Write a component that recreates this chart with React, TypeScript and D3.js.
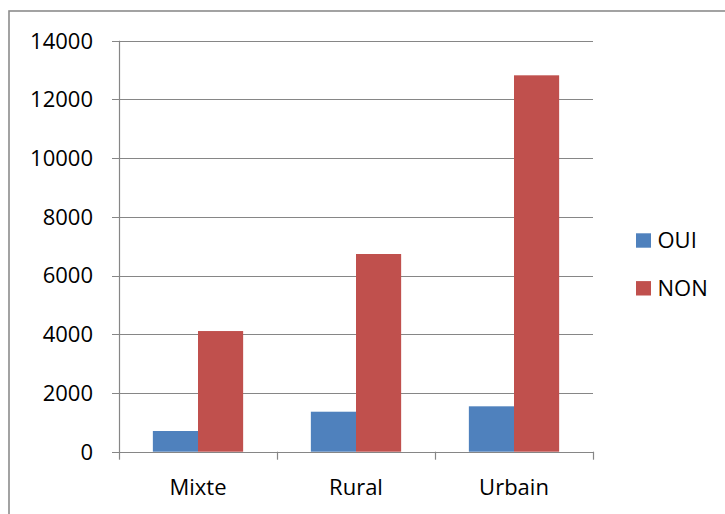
import React from "react";
import * as d3 from "d3";

const categories = ["Mixte", "Rural", "Urbain"];
const seriesNames = ["OUI", "NON"];
const ouiValues = [705, 1362, 1546];
const nonValues = [4110, 6734, 12821];
const yTicks = [0, 2000, 4000, 6000, 8000, 10000, 12000, 14000];
const colors = ["#4F81BD", "#C0504D"];

const W = 725;
const H = 514;
const plot = { left: 119, right: 593, top: 40.7, bottom: 451.7 };
const FONT = "'Open Sans', 'Liberation Sans', sans-serif";
const FS = 22;
const AXIS = "#868686";

export default function App() {
  const x = d3.scaleBand<string>().domain(categories).range([plot.left, plot.right]).paddingInner(0).paddingOuter(0);
  const y = d3.scaleLinear().domain([0, 14000]).range([plot.bottom, plot.top]);
  const bw = x.bandwidth();
  // Excel-style gap width of 150%: outer padding of 0.75 bar widths on each side
  const x1 = d3.scaleBand<string>().domain(seriesNames).range([0, bw]).paddingOuter(0.75).paddingInner(0);
  const series = [ouiValues, nonValues];
  const bounds = [plot.left, ...categories.map((c) => (x(c) as number) + bw)];

  return (
    <svg width={W} height={H} style={{ position: "absolute", left: 0, top: 0, background: "#fff" }}>
      <rect x={9} y={11} width={W + 20} height={H + 20} fill="#fff" stroke="#8c8c8c" strokeWidth={1.6} />
      {yTicks.map((t) => (
        <g key={t}>
          <line x1={plot.left - 7} x2={plot.right} y1={Math.round(y(t)) + 0.5} y2={Math.round(y(t)) + 0.5} stroke={AXIS} strokeWidth={1.2} />
          <text x={93} y={y(t) + 7.8} textAnchor="end" fontFamily={FONT} fontSize={FS} fill="#000">
            {t}
          </text>
        </g>
      ))}
      {series.map((vals, si) =>
        categories.map((c, ci) => (
          <rect
            key={`${si}-${ci}`}
            x={(x(c) as number) + (x1(seriesNames[si]) as number)}
            y={y(vals[ci])}
            width={x1.bandwidth()}
            height={plot.bottom - y(vals[ci])}
            fill={colors[si]}
          />
        ))
      )}
      <line x1={plot.left + 0.5} x2={plot.left + 0.5} y1={plot.top} y2={plot.bottom + 0.5} stroke={AXIS} strokeWidth={1.2} />
      <line x1={plot.left} x2={plot.right} y1={Math.round(plot.bottom) + 0.5} y2={Math.round(plot.bottom) + 0.5} stroke={AXIS} strokeWidth={1.2} />
      {bounds.map((b, i) => (
        <line key={i} x1={Math.round(b) + 0.5} x2={Math.round(b) + 0.5} y1={plot.bottom} y2={plot.bottom + 8} stroke={AXIS} strokeWidth={1.2} />
      ))}
      {categories.map((c) => (
        <text key={c} x={(x(c) as number) + bw / 2} y={495} textAnchor="middle" fontFamily={FONT} fontSize={FS} fill="#000">
          {c}
        </text>
      ))}
      {seriesNames.map((s, i) => (
        <g key={s}>
          <rect x={636} y={233.3 + i * 47.8} width={15} height={14.4} fill={colors[i]} />
          <text x={657.5} y={248 + i * 47.8} fontFamily={FONT} fontSize={FS} fill="#000">
            {s}
          </text>
        </g>
      ))}
    </svg>
  );
}
